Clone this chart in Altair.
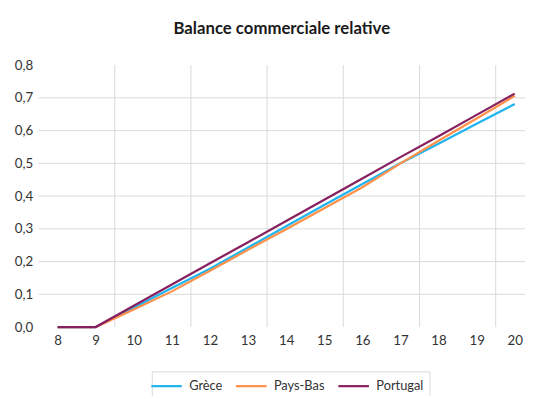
import altair as alt
import pandas as pd

# ---- data ----
periodes = [8, 9, 10, 11, 12, 13, 14, 15, 16, 17, 18, 19, 20]
grece = [0.0, 0.0, 0.059, 0.119, 0.178, 0.243, 0.308, 0.373, 0.437, 0.500, 0.560, 0.621, 0.681]
pays_bas = [0.0, 0.0, 0.054, 0.109, 0.172, 0.236, 0.299, 0.363, 0.427, 0.500, 0.569, 0.637, 0.706]
portugal = [0.0, 0.0, 0.065, 0.130, 0.195, 0.259, 0.324, 0.389, 0.454, 0.519, 0.583, 0.648, 0.713]

series_names = ["Grèce", "Pays-Bas", "Portugal"]
series_colors = ["#1FB4F0", "#FF9149", "#86205E"]

y_ticks = [0.0, 0.1, 0.2, 0.3, 0.4, 0.5, 0.6, 0.7, 0.8]
h_grid = [0.1, 0.2, 0.3, 0.4, 0.5, 0.6, 0.7]
v_grid = [9.5, 11.5, 13.5, 15.5, 17.5, 19.5]

rows = []
for name, vals in zip(series_names, [grece, pays_bas, portugal]):
    for p, v in zip(periodes, vals):
        rows.append({"periode": p, "valeur": v, "serie": name})
df = pd.DataFrame(rows)

vgrid_df = pd.DataFrame({"periode": v_grid, "valeur": [0.0] * len(v_grid), "y1": [0.8] * len(v_grid)})
hgrid_df = pd.DataFrame({"valeur": h_grid})

FONT = "Lato"
TXT = "#333333"
xscale = alt.Scale(domain=[7.5, 20.27], nice=False, zero=False)
yscale = alt.Scale(domain=[0, 0.8], nice=False, zero=False)

xaxis = alt.Axis(
    values=periodes, grid=False, ticks=False, domain=False, title=None,
    labelFont=FONT, labelFontSize=13.5, labelColor=TXT,
    labelPadding=7, labelFlush=False, labelOverlap=False, format="d",
)
yaxis = alt.Axis(
    values=y_ticks, grid=False, ticks=False, domain=False, title=None,
    labelFont=FONT, labelFontSize=13.5, labelColor=TXT, labelPadding=6,
    labelExpr="replace(format(datum.value, '.1f'), '.', ',')",
)

vgrid = alt.Chart(vgrid_df).mark_rule(color="#D9D9D9", strokeWidth=1).encode(
    x=alt.X("periode:Q", scale=xscale, axis=xaxis),
    y=alt.Y("valeur:Q", scale=yscale, axis=yaxis),
    y2="y1:Q",
)
hgrid = alt.Chart(hgrid_df).mark_rule(color="#D9D9D9", strokeWidth=1).encode(
    y=alt.Y("valeur:Q", scale=yscale, axis=yaxis)
)

lines = alt.Chart(df).mark_line(strokeWidth=2.25).encode(
    x=alt.X("periode:Q", scale=xscale, axis=xaxis),
    y=alt.Y("valeur:Q", scale=yscale, axis=yaxis),
    color=alt.Color(
        "serie:N",
        scale=alt.Scale(domain=series_names, range=series_colors),
        legend=alt.Legend(
            title=None, orient="none", legendX=115, legendY=311,
            direction="horizontal",
            symbolType="M-2,0H2", symbolSize=240, symbolStrokeWidth=2.25,
            labelOffset=14, columnPadding=9, padding=6,
            strokeColor="#D9D9D9",
            labelFont=FONT, labelFontSize=13, labelColor=TXT,
        ),
    ),
    order=alt.Order("periode:Q"),
)

chart = alt.layer(vgrid, hgrid, lines).properties(
    width=494,
    height=266,
    title=alt.TitleParams(
        "Balance commerciale relative", font=FONT, fontSize=17, fontWeight="bold",
        color="#1A1A1A", anchor="middle", offset=21,
    ),
    autosize=alt.AutoSizeParams(type="none"),
    padding={"left": 31, "top": 55, "right": 1, "bottom": 67},
).configure_view(stroke=None)

chart.save("out.html", embed_options={"renderer": "svg", "actions": False})
